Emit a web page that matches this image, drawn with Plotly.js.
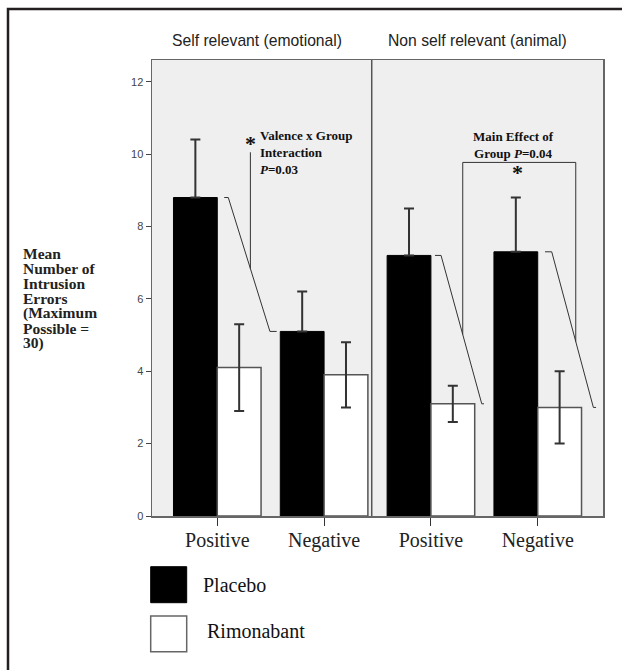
<!DOCTYPE html>
<html>
<head>
<meta charset="utf-8">
<script src="https://cdn.plot.ly/plotly-3.0.1.min.js"></script>
<style>html,body{margin:0;padding:0;background:#fff;}#chart{width:622px;height:670px;}</style>
</head>
<body>
<div id="chart"></div>
<script>
// ---- data ----
const categories = ['Positive', 'Negative', 'Positive', 'Negative'];
const seriesNames = ['Placebo', 'Rimonabant'];
const placebo = [8.8, 5.1, 7.2, 7.3];
const placeboErr = [1.6, 1.1, 1.3, 1.5];
const rimonabant = [4.1, 3.9, 3.1, 3.0];
const rimonabantErr = [1.2, 0.9, 0.5, 1.0];
const panelTitles = ['Self relevant (emotional)', 'Non self relevant (animal)'];
const yTickVals = [0, 2, 4, 6, 8, 10, 12];
const yTitleLines = ['Mean', 'Number of', 'Intrusion', 'Errors', '(Maximum', 'Possible =', '30)'];
const interactionText = 'Valence x Group<br>Interaction<br><i>P</i>=0.03';
const mainEffectText = 'Main Effect of<br>Group <i>P</i>=0.04';

// ---- layout helpers (pixel -> paper) ----
const L = 152, R = 603, T = 60, B = 516;
const px = x => (x - L) / (R - L);
const py = y => (B - y) / (B - T);
const xIdx = categories.map((_, i) => i);
const serif = 'Liberation Serif, Times New Roman, serif';
const sans = 'Liberation Sans, Arial, sans-serif';

function interpY(x, x1, y1, x2, y2) { return y1 + (y2 - y1) * (x - x1) / (x2 - x1); }
function lineTrace(xs, ys) {
  return {type: 'scatter', mode: 'lines', x: xs, y: ys, line: {color: '#333', width: 1},
          hoverinfo: 'skip', showlegend: false, cliponaxis: false};
}
function note(x, y, text, font, extra) {
  return Object.assign({xref: 'paper', yref: 'paper', x: px(x), y: py(y), text: text, showarrow: false,
    xanchor: 'center', yanchor: 'middle', font: font}, extra || {});
}

const barW = 0.41;
const traces = [
  {type: 'bar', name: seriesNames[0], x: xIdx, y: placebo, offset: -barW, width: barW,
   marker: {color: '#000', line: {color: '#000', width: 1}},
   error_y: {type: 'data', symmetric: false, array: placeboErr, arrayminus: placeboErr.map(() => 0),
             visible: true, color: '#333', thickness: 2, width: 5}},
  {type: 'bar', name: seriesNames[1], x: xIdx, y: rimonabant, offset: 0, width: barW,
   marker: {color: '#fff', line: {color: '#555', width: 1.5}},
   error_y: {type: 'data', array: rimonabantErr, visible: true, color: '#333', thickness: 2, width: 5}}
];

// interaction bracket (left panel)
const ib = [0.065, 0.103, 0.493, 0.556];
traces.push(lineTrace(ib, [placebo[0], placebo[0], placebo[1], placebo[1]]));
const starX = 0.31, starTop = 10.05;
traces.push(lineTrace([starX, starX], [starTop, interpY(starX, ib[1], placebo[0], ib[2], placebo[1])]));

// right panel brackets
const b1 = [2.038, 2.095, 2.476, 2.497];
const b2 = [3.068, 3.131, 3.521, 3.546];
traces.push(lineTrace(b1, [placebo[2], placebo[2], rimonabant[2], rimonabant[2]]));
traces.push(lineTrace(b2, [placebo[3], placebo[3], rimonabant[3], rimonabant[3]]));
const meL = 2.298, meR = 3.356, meTop = 9.77;
traces.push(lineTrace([meL, meL, meR, meR], [
  interpY(meL, b1[1], placebo[2], b1[2], rimonabant[2]), meTop, meTop,
  interpY(meR, b2[1], placebo[3], b2[2], rimonabant[3])]));

const titleFont = {family: sans, size: 15.7, color: '#222'};
const noteFont = {family: serif, size: 13, color: '#111'};
const starFont = {family: serif, size: 22, color: '#111'};
const legFont = {family: serif, size: 20, color: '#111'};
const annotations = [
  note(257, 41, panelTitles[0], titleFont),
  note(477, 41, panelTitles[1], titleFont),
  note(258, 126, '<b>' + interactionText + '</b>', noteFont, {xanchor: 'left', yanchor: 'top', align: 'left'}),
  note(250.7, 143, '<b>*</b>', starFont),
  note(513, 127, '<b>' + mainEffectText + '</b>', noteFont, {yanchor: 'top', align: 'center'}),
  note(517, 172, '<b>*</b>', starFont),
  note(201, 585, seriesNames[0], legFont, {xanchor: 'left'}),
  note(205, 631, seriesNames[1], legFont, {xanchor: 'left'})
];
yTitleLines.forEach((t, i) => annotations.push(
  note(21, 253 + 15 * i, '<b>' + t + '</b>', {family: serif, size: 15.5, color: '#222'}, {xanchor: 'left'})
));

const shapes = [
  {type: 'rect', xref: 'paper', yref: 'paper', x0: px(8), y0: py(9), x1: px(660), y1: py(720),
   line: {color: '#231f20', width: 2.5}, fillcolor: 'rgba(0,0,0,0)'},
  {type: 'line', xref: 'x', yref: 'paper', x0: 1.446, x1: 1.446, y0: 0, y1: 1,
   line: {color: '#555', width: 1.5}},
  {type: 'rect', xref: 'paper', yref: 'paper', x0: px(150.7), x1: px(186.7), y0: py(566.7), y1: py(602.7),
   line: {color: '#000', width: 1}, fillcolor: '#000'},
  {type: 'rect', xref: 'paper', yref: 'paper', x0: px(150.7), x1: px(186.7), y0: py(616), y1: py(651.7),
   line: {color: '#666', width: 1.5}, fillcolor: '#fff'}
];

const layout = {
  width: 622, height: 670,
  margin: {l: L, r: 622 - R, t: T, b: 670 - B, pad: 0},
  paper_bgcolor: '#fff', plot_bgcolor: '#efefef',
  showlegend: false, barmode: 'overlay',
  xaxis: {range: [-0.611, 3.611], tickvals: xIdx, ticktext: categories, ticks: 'outside', ticklen: 8,
          tickcolor: '#333', tickwidth: 1, showline: true, mirror: true, linecolor: '#666', linewidth: 1.5,
          showgrid: false, zeroline: false, ticklabelstandoff: -3,
          tickfont: {family: serif, size: 20, color: '#222'}},
  yaxis: {range: [0, 12.6], tickvals: yTickVals, ticks: 'outside', ticklen: 5, tickcolor: '#444',
          showline: true, mirror: true, linecolor: '#666', linewidth: 1.5, showgrid: false, zeroline: false,
          tickfont: {family: sans, size: 11, color: '#444'}},
  annotations: annotations, shapes: shapes
};

Plotly.newPlot('chart', traces, layout, {displayModeBar: false, staticPlot: true});
</script>
</body>
</html>
